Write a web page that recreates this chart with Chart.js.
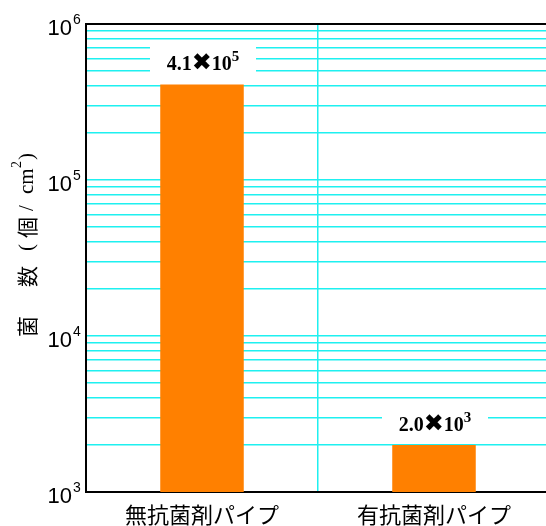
<!DOCTYPE html>
<html>
<head>
<meta charset="utf-8">
<script src="https://cdn.jsdelivr.net/npm/chart.js@4"></script>
<style>
  html, body { margin: 0; padding: 0; background: #fff; }
  #outer { width: 546px; height: 526px; overflow: hidden; }
  #wrap { width: 550px; height: 526px; position: relative; }
</style>
</head>
<body>
<div id="outer"><div id="wrap"><canvas id="chart"></canvas></div></div>
<script>
// data
const categories = ['無抗菌剤パイプ', '有抗菌剤パイプ'];
const counts = [4.1e5, 2.0e3];
const decadeTicks = [1e3, 1e4, 1e5, 1e6];
const minorSteps = [1, 2, 3, 4, 5, 6, 7, 8, 9];

// gridlines at every 1..9 x 10^n
const gridValues = decadeTicks.slice(0, -1)
    .flatMap(d => minorSteps.map(m => m * d))
    .concat([decadeTicks[decadeTicks.length - 1]]);

const CYAN = 'rgb(30,240,240)';

const overlay = {
    id: 'overlay',
    afterDatasetsDraw(chart) {
        const ctx = chart.ctx;
        const area = chart.chartArea;
        ctx.save();
        // top frame line
        ctx.strokeStyle = '#000';
        ctx.lineWidth = 2;
        ctx.beginPath();
        ctx.moveTo(area.left - 1, area.top);
        ctx.lineTo(area.right, area.top);
        ctx.stroke();

        // value labels on white boxes above the bars
        chart.getDatasetMeta(0).data.forEach((bar, i) => {
            const v = counts[i];
            const exp = Math.floor(Math.log10(v));
            const mant = (v / Math.pow(10, exp)).toFixed(1);
            const parts = [
                { t: mant, f: 'bold 20px "Liberation Serif"', dy: 0 },
                { t: '✖', f: '24px "DejaVu Sans"', dy: 0 },
                { t: '10', f: 'bold 20px "Liberation Serif"', dy: 0 },
                { t: String(exp), f: 'bold 15px "Liberation Serif"', dy: -9 }
            ];
            let total = 0;
            parts.forEach(p => { ctx.font = p.f; p.w = ctx.measureText(p.t).width; total += p.w; });
            ctx.fillStyle = '#fff';
            ctx.fillRect(bar.x - 52, bar.y - 42, 106, 36);
            ctx.fillStyle = '#000';
            ctx.textAlign = 'left';
            ctx.textBaseline = 'alphabetic';
            let x = bar.x + 1 - total / 2;
            const base = bar.y - 14;
            parts.forEach(p => {
                ctx.font = p.f;
                ctx.fillText(p.t, x, base + p.dy);
                x += p.w;
            });
        });
        ctx.restore();
    },
    afterDraw(chart) {
        const ctx = chart.ctx;
        const y = chart.scales.y;
        ctx.save();
        ctx.fillStyle = '#000';
        // y tick labels 10^n
        decadeTicks.forEach(d => {
            const py = y.getPixelForValue(d);
            const exp = Math.round(Math.log10(d));
            ctx.font = '22px "Liberation Sans"';
            ctx.textAlign = 'right';
            ctx.textBaseline = 'alphabetic';
            ctx.fillText('10', 72, py + 11);
            ctx.font = '14px "Liberation Sans"';
            ctx.textAlign = 'left';
            ctx.fillText(String(exp), 73, py);
        });

        // rotated y axis title
        ctx.translate(27, 337);
        ctx.rotate(-Math.PI / 2);
        ctx.textAlign = 'left';
        ctx.textBaseline = 'middle';
        const cjk = '21px "Noto Sans CJK JP"';
        const serif = '21px "Liberation Serif"';
        const segs = [
            { t: '菌', x: 0, f: cjk },
            { t: '数', x: 50, f: cjk },
            { t: '(', x: 86, f: serif },
            { t: '個', x: 99, f: cjk },
            { t: '/', x: 126, f: serif },
            { t: 'cm', x: 143, f: serif },
            { t: '2', x: 169, f: '14px "Liberation Serif"', dy: -10 },
            { t: ')', x: 177, f: serif }
        ];
        segs.forEach(s => {
            ctx.font = s.f;
            ctx.fillText(s.t, s.x, s.dy || 0);
        });
        ctx.restore();
    }
};

new Chart(document.getElementById('chart').getContext('2d'), {
    type: 'bar',
    data: {
        labels: categories,
        datasets: [{
            data: counts,
            backgroundColor: '#ff8000',
            borderWidth: 0,
            barPercentage: 0.36,
            categoryPercentage: 1.0
        }]
    },
    options: {
        responsive: true,
        maintainAspectRatio: false,
        animation: false,
        layout: { padding: { top: 24, right: 0, left: 0, bottom: 0 } },
        plugins: { legend: { display: false }, tooltip: { enabled: false } },
        scales: {
            x: {
                offset: true,
                grid: {
                    color: ctx => ctx.index === 1 ? CYAN : 'transparent',
                    lineWidth: 1.5,
                    tickLength: 0
                },
                border: { color: '#000', width: 2 },
                ticks: {
                    color: '#000',
                    padding: 9,
                    font: { family: '"Noto Sans CJK JP"', size: 22 }
                },
                afterFit: scale => { scale.height = 34; }
            },
            y: {
                type: 'logarithmic',
                min: decadeTicks[0],
                max: decadeTicks[decadeTicks.length - 1],
                afterBuildTicks: scale => { scale.ticks = gridValues.map(v => ({ value: v })); },
                grid: { color: CYAN, lineWidth: 1.5, tickLength: 0 },
                border: { color: '#000', width: 2 },
                ticks: { display: false },
                afterFit: scale => { scale.width = 86; }
            }
        }
    },
    plugins: [overlay]
});
</script>
</body>
</html>
